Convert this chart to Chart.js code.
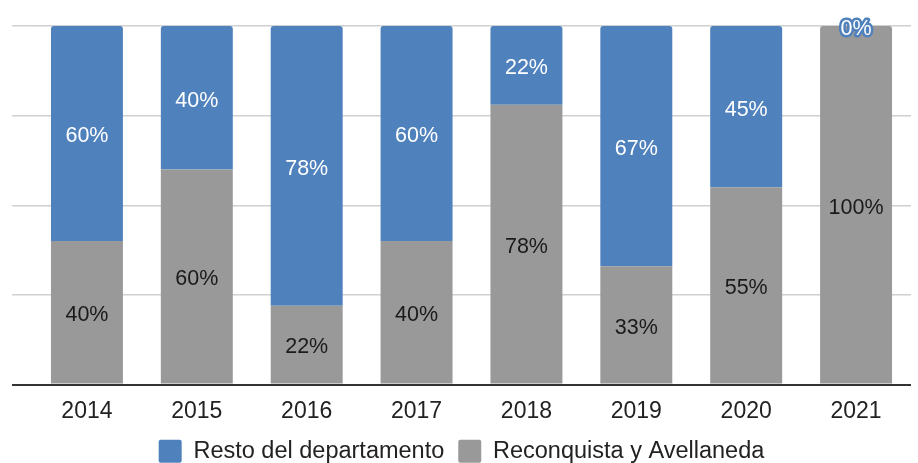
<!DOCTYPE html>
<html>
<head>
<meta charset="utf-8">
<script src="https://cdn.jsdelivr.net/npm/chart.js@4"></script>
<style>
  html, body { margin: 0; padding: 0; background: #fff; overflow: hidden; }
  #wrap { width: 918px; height: 473px; }
</style>
</head>
<body>
<div id="wrap"><canvas id="chart"></canvas></div>
<script>
const years = ['2014', '2015', '2016', '2017', '2018', '2019', '2020', '2021'];
const resto = [60, 40, 78, 60, 22, 67, 45, 0];
const reconquista = [40, 60, 22, 40, 78, 33, 55, 100];
const yTicks = [0, 25, 50, 75, 100];

const BLUE = '#4f81bd';
const GRAY = '#999999';
const FONT = 'Liberation Sans, Arial, sans-serif';

// draws the percentage inside each bar segment
const segmentLabels = {
  id: 'segmentLabels',
  afterDatasetsDraw(chart) {
    const ctx = chart.ctx;
    ctx.save();
    ctx.font = '21.5px ' + FONT;
    ctx.textAlign = 'center';
    ctx.textBaseline = 'middle';
    chart.data.datasets.forEach((ds, i) => {
      const meta = chart.getDatasetMeta(i);
      meta.data.forEach((bar, j) => {
        const v = ds.data[j];
        const p = bar.getProps(['x', 'y', 'base'], true);
        const txt = v + '%';
        const cy = (p.y + p.base) / 2 + 3;
        if (v === 0) {
          ctx.lineWidth = 5;
          ctx.lineJoin = 'round';
          ctx.strokeStyle = ds.backgroundColor;
          ctx.strokeText(txt, p.x, cy);
          ctx.fillStyle = '#ffffff';
          ctx.fillText(txt, p.x, cy);
        } else {
          ctx.fillStyle = ds.labelColor;
          ctx.fillText(txt, p.x, cy);
        }
      });
    });
    ctx.restore();
  }
};

const topRadius = { topLeft: 3, topRight: 3, bottomLeft: 0, bottomRight: 0 };

new Chart(document.getElementById('chart'), {
  type: 'bar',
  data: {
    labels: years,
    datasets: [
      {
        label: 'Reconquista y Avellaneda',
        data: reconquista,
        backgroundColor: GRAY,
        labelColor: '#1a1a1a',
        borderRadius: (c) => (resto[c.dataIndex] === 0 ? topRadius : 0),
        borderSkipped: false,
        stack: 's',
      },
      {
        label: 'Resto del departamento',
        data: resto,
        backgroundColor: BLUE,
        labelColor: '#ffffff',
        borderRadius: topRadius,
        borderSkipped: false,
        stack: 's',
      },
    ],
  },
  options: {
    responsive: true,
    maintainAspectRatio: false,
    animation: false,
    layout: { padding: { top: 26, right: 7, left: 12, bottom: 0 } },
    datasets: {
      bar: { barPercentage: 0.655, categoryPercentage: 1 },
    },
    plugins: {
      title: { display: false },
      tooltip: { enabled: false },
      legend: {
        position: 'bottom',
        reverse: true,
        labels: {
          boxWidth: 23,
          boxHeight: 23,
          useBorderRadius: true,
          borderRadius: 2,
          padding: 14,
          color: '#222',
          font: { size: 23.5, family: FONT },
        },
      },
    },
    scales: {
      x: {
        stacked: true,
        grid: { display: false },
        border: { display: false },
        afterFit: (axis) => { axis.height = 41; },
        ticks: {
          color: '#222',
          padding: 5,
          font: { size: 23, family: FONT },
        },
      },
      y: {
        stacked: true,
        min: 0,
        max: 100,
        afterBuildTicks: (axis) => {
          axis.ticks = yTicks.map((v) => ({ value: v }));
        },
        ticks: { display: false },
        border: { display: false },
        grid: {
          drawTicks: true,
          tickLength: 20,
          color: (c) => (c.tick && c.tick.value === 0 ? '#333333' : '#d0d0d0'),
          lineWidth: (c) => (c.tick && c.tick.value === 0 ? 2 : 1.5),
        },
      },
    },
  },
  plugins: [segmentLabels],
});
</script>
</body>
</html>
